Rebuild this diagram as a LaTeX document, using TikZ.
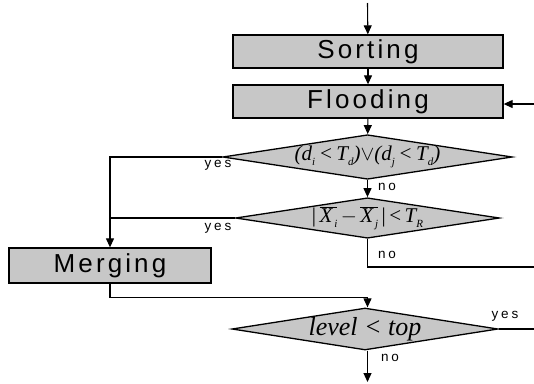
\documentclass[tikz,border=0pt]{standalone}
\usepackage{fontspec}
\setmainfont{Liberation Serif}
\newfontfamily\boxfont[LetterSpace=12]{Liberation Sans}
\newfontfamily\lblfont[LetterSpace=22]{Liberation Sans}
\usetikzlibrary{shapes.geometric,arrows.meta}
\newcommand\mysub[1]{\raisebox{-0.25em}{\fontsize{11}{11}\selectfont #1}}
\begin{document}
\begin{tikzpicture}[x=1pt,y=-1pt,
  proc/.style={draw, line width=1.3pt, fill=black!22, minimum width=270pt, minimum height=33pt, inner sep=0pt, font=\boxfont\fontsize{26}{26}\selectfont},
  dec/.style={draw, line width=1.3pt, fill=black!22, diamond, aspect=6.5, inner sep=0pt, font=\fontsize{21}{21}\selectfont\itshape},
  arr/.style={line width=1.1pt, -{Triangle[length=9pt,width=8pt]}},
  ln/.style={line width=1.1pt},
  lbl/.style={font=\lblfont\fontsize{13.5}{13.5}\selectfont, inner sep=0pt}]
\useasboundingbox (0,0) rectangle (534,383);
\node[proc] (sort) at (368,51.5) {Sorting};
\node[proc] (flood) at (368,101.5) {Flooding};
\node[dec, minimum width=261pt, minimum height=40pt] (d1) at (367.5,157)
  {(d\mysub{i}\,<\,T\mysub{d})$\vee$(d\mysub{j}\,<\,T\mysub{d})};
\node[dec, minimum width=264pt, minimum height=40pt] (d2) at (367.5,218)
  {\upshape|\,$\overline{\mbox{\itshape X\mysub{\,i}}}$\,$-$\,$\overline{\mbox{\itshape X\mysub{\,j}}}$\,|\,<\,\itshape T\mysub{R}};
\node[proc, minimum width=202pt, minimum height=35pt] (merge) at (110,265.5) {Merging};
\node[dec, minimum width=260pt, minimum height=42pt, font=\fontsize{26}{26}\selectfont\itshape] (d3) at (365,329) {level < top};
\coordinate (top) at (367.5,3);
\coordinate (fin) at (534,104);
\coordinate (nright) at (534,267);
\coordinate (yright) at (534,329);
\coordinate (bot) at (367.5,382);
\draw[arr] (top) -- (sort);
\draw[arr] (sort) -- (flood);
\draw[arr] (fin) -- (fin -| flood.east);
\draw[arr] (flood) -- (d1);
\draw[arr] (d1) -- (d1.south |- d2.north);
\draw[arr] (d1.west) -| (merge.north);
\draw[ln] (d2.west) -- (d2.west -| merge.north);
\draw[ln] (d1.south |- d2.south) |- (nright);
\draw[arr] (merge.south) -- ++(0,14) -| (d1.south |- d3.north);
\draw[ln] (d3.east) -- (yright);
\draw[arr] (d1.south |- d3.south) -- (bot);
\node[lbl] (yes1) at (218,165) {yes};
\node[lbl] (yes2) at (218,228) {yes};
\node[lbl] (no1) at (387,187) {no};
\node[lbl] (no2) at (387,255) {no};
\node[lbl] (no3) at (390,358) {no};
\node[lbl] (yes3) at (505,316) {yes};
\end{tikzpicture}
\end{document}
